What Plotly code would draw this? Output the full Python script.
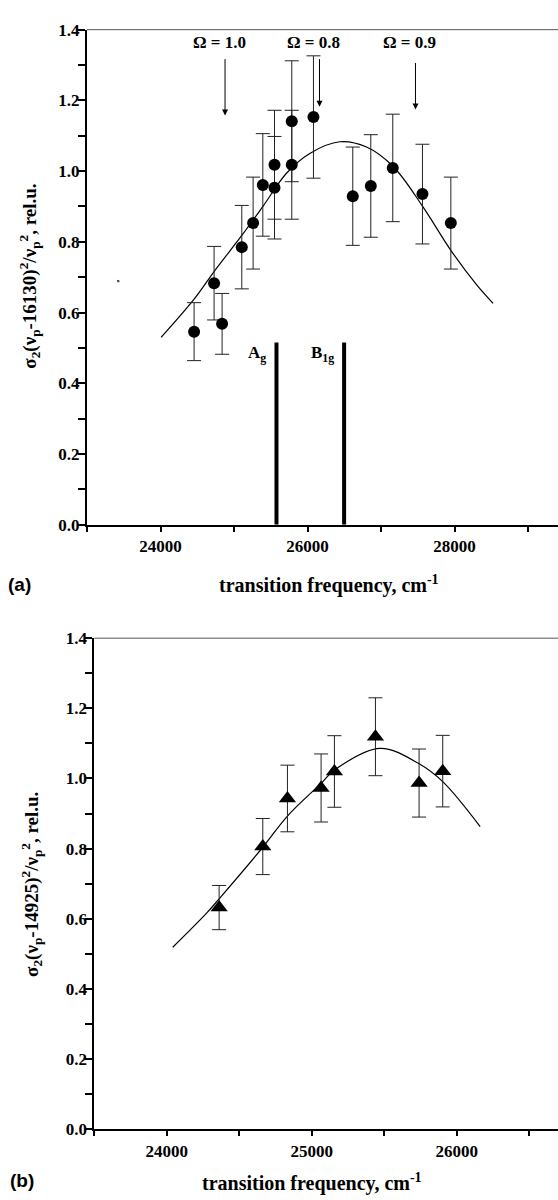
import plotly.graph_objects as go

# ---------------- data: panel (a) ----------------
freq_a = [24457, 24729, 24838, 25106, 25260, 25392, 25551, 25551,
          25786, 25786, 26081, 26616, 26861, 27160, 27564, 27950]
sigma_a = [0.546, 0.683, 0.568, 0.785, 0.853, 0.961, 1.018, 0.953,
           1.141, 1.018, 1.153, 0.929, 0.958, 1.009, 0.935, 0.853]
err_a = [0.082, 0.104, 0.086, 0.118, 0.130, 0.145, 0.154, 0.145,
         0.171, 0.154, 0.173, 0.139, 0.145, 0.152, 0.141, 0.130]

fit_a_freq = [24008, 24457, 24729, 25106, 25396, 25714, 26031, 26439,
              26803, 27165, 27564, 27950, 28299, 28525]
fit_a_val = [0.530, 0.638, 0.716, 0.818, 0.901, 0.994, 1.050, 1.083,
             1.068, 1.013, 0.901, 0.776, 0.679, 0.626]

omega_labels = ["Ω = 1.0", "Ω = 0.8", "Ω = 0.9"]
omega_freq = [24878, 26163, 27469]
omega_tip = [1.157, 1.182, 1.174]
omega_tail = [1.321, 1.321, 1.310]

sym_labels = ["A<sub>g</sub>", "B<sub>1g</sub>"]
sym_freq = [25578, 26498]
sym_height = [0.515, 0.515]

xticks_a = [24000, 26000, 28000]

# ---------------- data: panel (b) ----------------
freq_b = [24361, 24662, 24832, 25064, 25156, 25439, 25740, 25903]
sigma_b = [0.632, 0.806, 0.943, 0.973, 1.020, 1.119, 0.987, 1.021]
err_b = [0.063, 0.080, 0.095, 0.097, 0.102, 0.111, 0.097, 0.102]

fit_b_freq = [24041, 24276, 24361, 24662, 24832, 25064, 25156, 25471,
              25740, 25903, 26161]
fit_b_val = [0.519, 0.617, 0.657, 0.804, 0.893, 0.986, 1.024, 1.086,
             1.042, 0.991, 0.863]

xticks_b = [24000, 25000, 26000]
yticks = [0.0, 0.2, 0.4, 0.6, 0.8, 1.0, 1.2, 1.4]

ytitle_a = "σ<sub>2</sub>(ν<sub>p</sub>-16130)<sup>2</sup>/ν<sub>p</sub><sup>2</sup>, rel.u."
ytitle_b = "σ<sub>2</sub>(ν<sub>p</sub>-14925)<sup>2</sup>/ν<sub>p</sub><sup>2</sup>, rel.u."
xtitle = "transition frequency, cm<sup>-1</sup>"

SERIF = "Liberation Serif"
SANS = "Liberation Sans"

fig = go.Figure()

# panel (a)
fig.add_trace(go.Scatter(x=fit_a_freq, y=fit_a_val, mode="lines",
                         line=dict(color="black", width=1.2, shape="spline", smoothing=1.0),
                         xaxis="x", yaxis="y", hoverinfo="skip"))
vx, vy = [], []
for f, h in zip(sym_freq, sym_height):
    vx += [f, f, None]
    vy += [0, h, None]
fig.add_trace(go.Scatter(x=vx, y=vy, mode="lines", line=dict(color="black", width=4),
                         xaxis="x", yaxis="y", hoverinfo="skip"))
fig.add_trace(go.Scatter(x=freq_a, y=sigma_a, mode="markers",
                         marker=dict(symbol="circle", size=12, color="black"),
                         error_y=dict(type="data", array=err_a, visible=True,
                                      color="#222", thickness=1, width=7),
                         xaxis="x", yaxis="y"))

# panel (b)
fig.add_trace(go.Scatter(x=fit_b_freq, y=fit_b_val, mode="lines",
                         line=dict(color="black", width=1.2, shape="spline", smoothing=1.0),
                         xaxis="x2", yaxis="y2", hoverinfo="skip"))
fig.add_trace(go.Scatter(x=freq_b, y=sigma_b, mode="markers",
                         marker=dict(symbol="triangle-up", size=15, color="black"),
                         error_y=dict(type="data", array=err_b, visible=True,
                                      color="#222", thickness=1, width=7),
                         xaxis="x2", yaxis="y2"))

tickfont = dict(family=SERIF, size=17, color="black")


def xax(domain, rng, ticks, minor_dtick, anchor):
    return dict(domain=domain, range=rng, anchor=anchor,
                tickmode="array", tickvals=ticks,
                ticktext=["<b>%d</b>" % t for t in ticks],
                showgrid=False, zeroline=False, showline=True, linecolor="black",
                linewidth=2, ticks="outside", ticklen=5, tickwidth=1.5,
                tickcolor="black", tickfont=tickfont,
                minor=dict(dtick=minor_dtick, tick0=0, ticks="outside", ticklen=5,
                           tickwidth=1.5, tickcolor="black", showgrid=False))


def yax(domain, anchor):
    return dict(domain=domain, range=[0, 1.4], anchor=anchor,
                tickmode="array", tickvals=yticks,
                ticktext=["<b>%.1f</b>" % t for t in yticks],
                showgrid=False, zeroline=False, showline=True,
                linecolor="black", linewidth=2, ticks="outside", ticklen=7,
                tickwidth=1.5, tickcolor="black", tickfont=tickfont,
                ticklabelstandoff=-5,
                minor=dict(dtick=0.1, tick0=0, ticks="outside", ticklen=7,
                           tickwidth=1.5, tickcolor="black", showgrid=False))


annotations = []
for lab, f, tip, tail in zip(omega_labels, omega_freq, omega_tip, omega_tail):
    annotations.append(dict(x=f, y=tip, ax=f, ay=tail, xref="x", yref="y",
                            axref="x", ayref="y", showarrow=True, arrowhead=2,
                            arrowsize=1.2, arrowwidth=1, arrowcolor="black", text=""))
    annotations.append(dict(x=f, y=1.363, xref="x", yref="y", showarrow=False,
                            xanchor="center", yanchor="middle",
                            text="<b>" + lab + "</b>", xshift=-6,
                            font=dict(family=SERIF, size=17, color="black")))
for lab, f in zip(sym_labels, sym_freq):
    annotations.append(dict(x=f, y=0.484, xref="x", yref="y", showarrow=False,
                            text="<b>" + lab + "</b>", xanchor="right",
                            yanchor="middle", xshift=-8,
                            font=dict(family=SERIF, size=17, color="black")))
# small stray mark
annotations.append(dict(x=23405, y=0.693, xref="x", yref="y", ax=4, ay=4,
                        showarrow=True, arrowhead=2, arrowsize=0.6, arrowwidth=1,
                        arrowcolor="#333", text=""))


def paper_text(txt, px, py, fam, size, angle=0):
    return dict(x=px / 558, y=1 - py / 1200, xref="paper", yref="paper",
                showarrow=False, xanchor="center", yanchor="middle",
                textangle=angle, text="<b>" + txt + "</b>",
                font=dict(family=fam, size=size, color="black"))


annotations += [
    paper_text(ytitle_a, 30, 272, SERIF, 19, -90),
    paper_text(ytitle_b, 32, 890, SERIF, 19, -90),
    paper_text(xtitle, 329, 585, SERIF, 20),
    paper_text(xtitle, 312, 1192, SERIF, 20),
    paper_text("(a)", 19.5, 585, SANS, 19),
    paper_text("(b)", 22, 1190, SANS, 19),
]

shapes = [
    dict(type="line", xref="x domain", yref="y domain", x0=0, x1=1, y0=1, y1=1,
         line=dict(color="#555", width=1)),
    dict(type="line", xref="x2 domain", yref="y2 domain", x0=0, x1=1, y0=1, y1=1,
         line=dict(color="#555", width=1)),
]

fig.update_layout(
    width=558, height=1200,
    margin=dict(l=0, r=0, t=0, b=0),
    paper_bgcolor="white", plot_bgcolor="white",
    showlegend=False,
    xaxis=xax([87 / 558, 1], [23000, 29408], xticks_a, 1000, "y"),
    yaxis=yax([1 - 524 / 1200, 1 - 21 / 1200], "x"),
    xaxis2=xax([94.3 / 558, 1], [23500, 26698], xticks_b, 500, "y2"),
    yaxis2=yax([1 - 1138.3 / 1200, 1 - 639.3 / 1200], "x2"),
    annotations=annotations,
    shapes=shapes,
)

fig.write_html("out.html")
